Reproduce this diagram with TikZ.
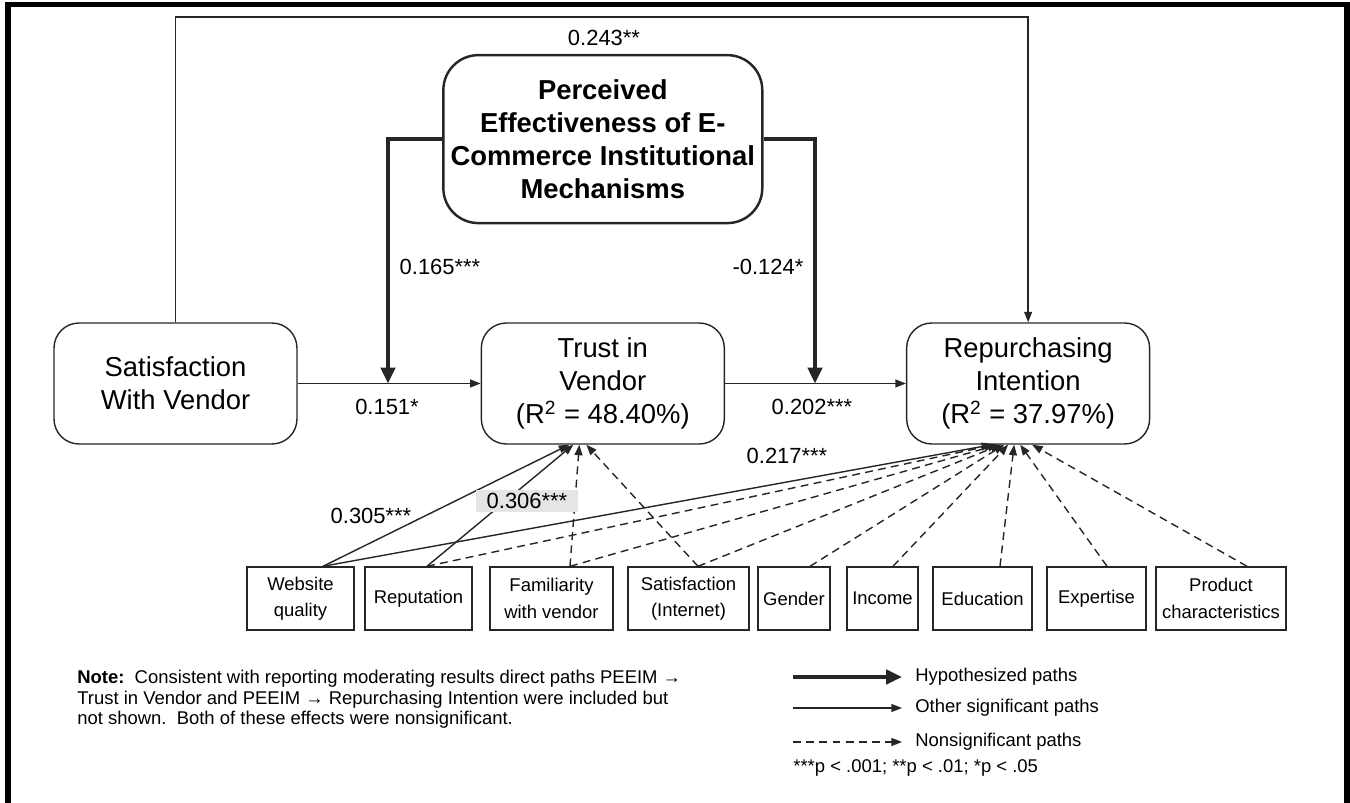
\documentclass[tikz,border=0pt]{standalone}
\usepackage{fontspec}
\setmainfont{Liberation Sans}
\usetikzlibrary{arrows.meta,positioning}
\tikzstyle{construct} = [rectangle, rounded corners=0.5cm, minimum width=4.86cm, minimum height=2.42cm, align=center, draw=black!85, line width=0.8pt, font=\fontsize{15.6}{18.7}\selectfont]
\tikzstyle{moderator} = [rectangle, rounded corners=0.7cm, minimum width=6.38cm, minimum height=3.36cm, align=center, draw=black!85, line width=1.4pt, font=\bfseries\fontsize{15.6}{18.7}\selectfont]
\tikzstyle{control} = [rectangle, minimum height=1.26cm, align=center, draw=black!85, line width=0.8pt, inner sep=1pt, font=\fontsize{10.5}{15}\selectfont]
\tikzstyle{coef} = [inner sep=0, font=\fontsize{12.5}{15}\selectfont]
\tikzstyle{hyp} = [line width=2.2pt, draw=black!85, -{Triangle[length=9pt,width=8pt]}]
\tikzstyle{sig} = [line width=0.8pt, draw=black!85, -{Triangle[length=6pt,width=4.5pt]}]
\tikzstyle{nonsig} = [sig, dash pattern=on 4.5pt off 3pt]
\tikzstyle{smalltext} = [inner sep=0, font=\fontsize{10.5}{11.6}\selectfont]

\begin{document}
\begin{tikzpicture}[x=0.02cm, y=-0.02cm]
\useasboundingbox (0,0) rectangle (1350,803);
\draw[line width=3.4pt] (8,803) -- (8,4.5) -- (1347,4.5) -- (1347,803);

% constructs
\node (sat) [construct] at (175.5,383.5) {Satisfaction\\With Vendor};
\node (trust) [construct, right=3.66cm of sat] {Trust in\\Vendor\\(R\textsuperscript{2} = 48.40\%)};
\node (rep) [construct, right=3.62cm of trust] {Repurchasing\\Intention\\(R\textsuperscript{2} = 37.97\%)};
\node (peeim) [moderator, above=1.96cm of trust] {Perceived\\Effectiveness of E-\\Commerce Institutional\\Mechanisms};

% main paths
\coordinate (modsat) at (388,383.5);
\coordinate (modtrust) at (815,383.5);
\draw[sig] (sat) -- (trust);
\draw[sig] (trust) -- (rep);
\draw[sig] (sat.north) -- ++(0,-305.5) -| (rep.north);
\draw[hyp] (peeim.west) -| (modsat);
\draw[hyp] (peeim.east) -| (modtrust);

\node (c243) [coef] at (604,38) {0.243**};
\node (c165) [coef] at (440,267) {0.165***};
\node (c124) [coef] at (768,267) {-0.124*};
\node (c151) [coef] at (387,407) {0.151*};
\node (c202) [coef] at (812,407) {0.202***};

% controls
\node (web) [control, minimum width=2.14cm] at (300.5,598.5) {Website\\quality};
\node (reput) [control, minimum width=2.14cm] at (418.5,598.5) {Reputation};
\node (famil) [control, minimum width=2.46cm] at (551.5,598.5) {Familiarity\\with vendor};
\node (satint) [control, minimum width=2.42cm] at (688.5,598.5) {Satisfaction\\(Internet)};
\node (gender) [control, minimum width=1.44cm] at (794,598.5) {Gender};
\node (income) [control, minimum width=1.42cm] at (882.5,598.5) {Income};
\node (educ) [control, minimum width=1.98cm] at (982.5,598.5) {Education};
\node (expert) [control, minimum width=1.98cm] at (1096.5,598.5) {Expertise};
\node (product) [control, minimum width=2.6cm] at (1221,598.5) {Product\\characteristics};

\draw[sig] ([xshift=0.45cm]web.north) -- ([xshift=-0.67cm]trust.south);
\draw[sig] ([xshift=0.17cm]reput.north) -- ([xshift=-0.59cm]trust.south);
\draw[nonsig] ([xshift=0.37cm]famil.north) -- ([xshift=-0.47cm]trust.south);
\draw[nonsig] ([xshift=0.19cm]satint.north) -- ([xshift=-0.33cm]trust.south);

\draw[sig] ([xshift=0.45cm]web.north) -- ([xshift=-0.72cm]rep.south);
\draw[nonsig] ([xshift=0.17cm]reput.north) -- ([xshift=-0.66cm]rep.south);
\draw[nonsig] ([xshift=0.37cm]famil.north) -- ([xshift=-0.6cm]rep.south);
\draw[nonsig] ([xshift=0.19cm]satint.north) -- ([xshift=-0.54cm]rep.south);
\draw[nonsig] ([xshift=0.32cm]gender.north) -- ([xshift=-0.48cm]rep.south);
\draw[nonsig] ([xshift=0.21cm]income.north) -- ([xshift=-0.4cm]rep.south);
\draw[nonsig] ([xshift=0.35cm]educ.north) -- ([xshift=-0.28cm]rep.south);
\draw[nonsig] ([xshift=0.21cm]expert.north) -- ([xshift=-0.16cm]rep.south);
\draw[nonsig] ([xshift=0.52cm]product.north) -- ([xshift=0.08cm]rep.south);

\node (c305) [coef] at (371,516) {0.305***};
\node (c306) [coef, fill=black!10, minimum width=2.04cm, minimum height=0.44cm] at (527,501) {0.306***};
\node (c217) [coef] at (787,456) {0.217***};

% note and legend
\node (note) [smalltext, anchor=north west, align=left] at (77,670) {\textbf{Note:}\ \ Consistent with reporting moderating results direct paths PEEIM →\\Trust in Vendor and PEEIM → Repurchasing Intention were included but\\not shown.\ \ Both of these effects were nonsignificant.};

\coordinate (lghyp) at (793,677);
\coordinate (lgsig) at (793,708);
\coordinate (lgnon) at (793,742);
\node (txthyp) [smalltext, anchor=west] at (915,677) {Hypothesized paths};
\node (txtsig) [smalltext, anchor=west] at (915,708) {Other significant paths};
\node (txtnon) [smalltext, anchor=west] at (915,742) {Nonsignificant paths};
\draw[hyp] (lghyp) -- ([xshift=-0.26cm]txthyp.west);
\draw[sig] (lgsig) -- ([xshift=-0.26cm]txtsig.west);
\draw[nonsig] (lgnon) -- ([xshift=-0.26cm]txtnon.west);
\node (pval) [smalltext, anchor=west] at (793,768) {***p < .001; **p < .01; *p < .05};
\end{tikzpicture}
\end{document}
